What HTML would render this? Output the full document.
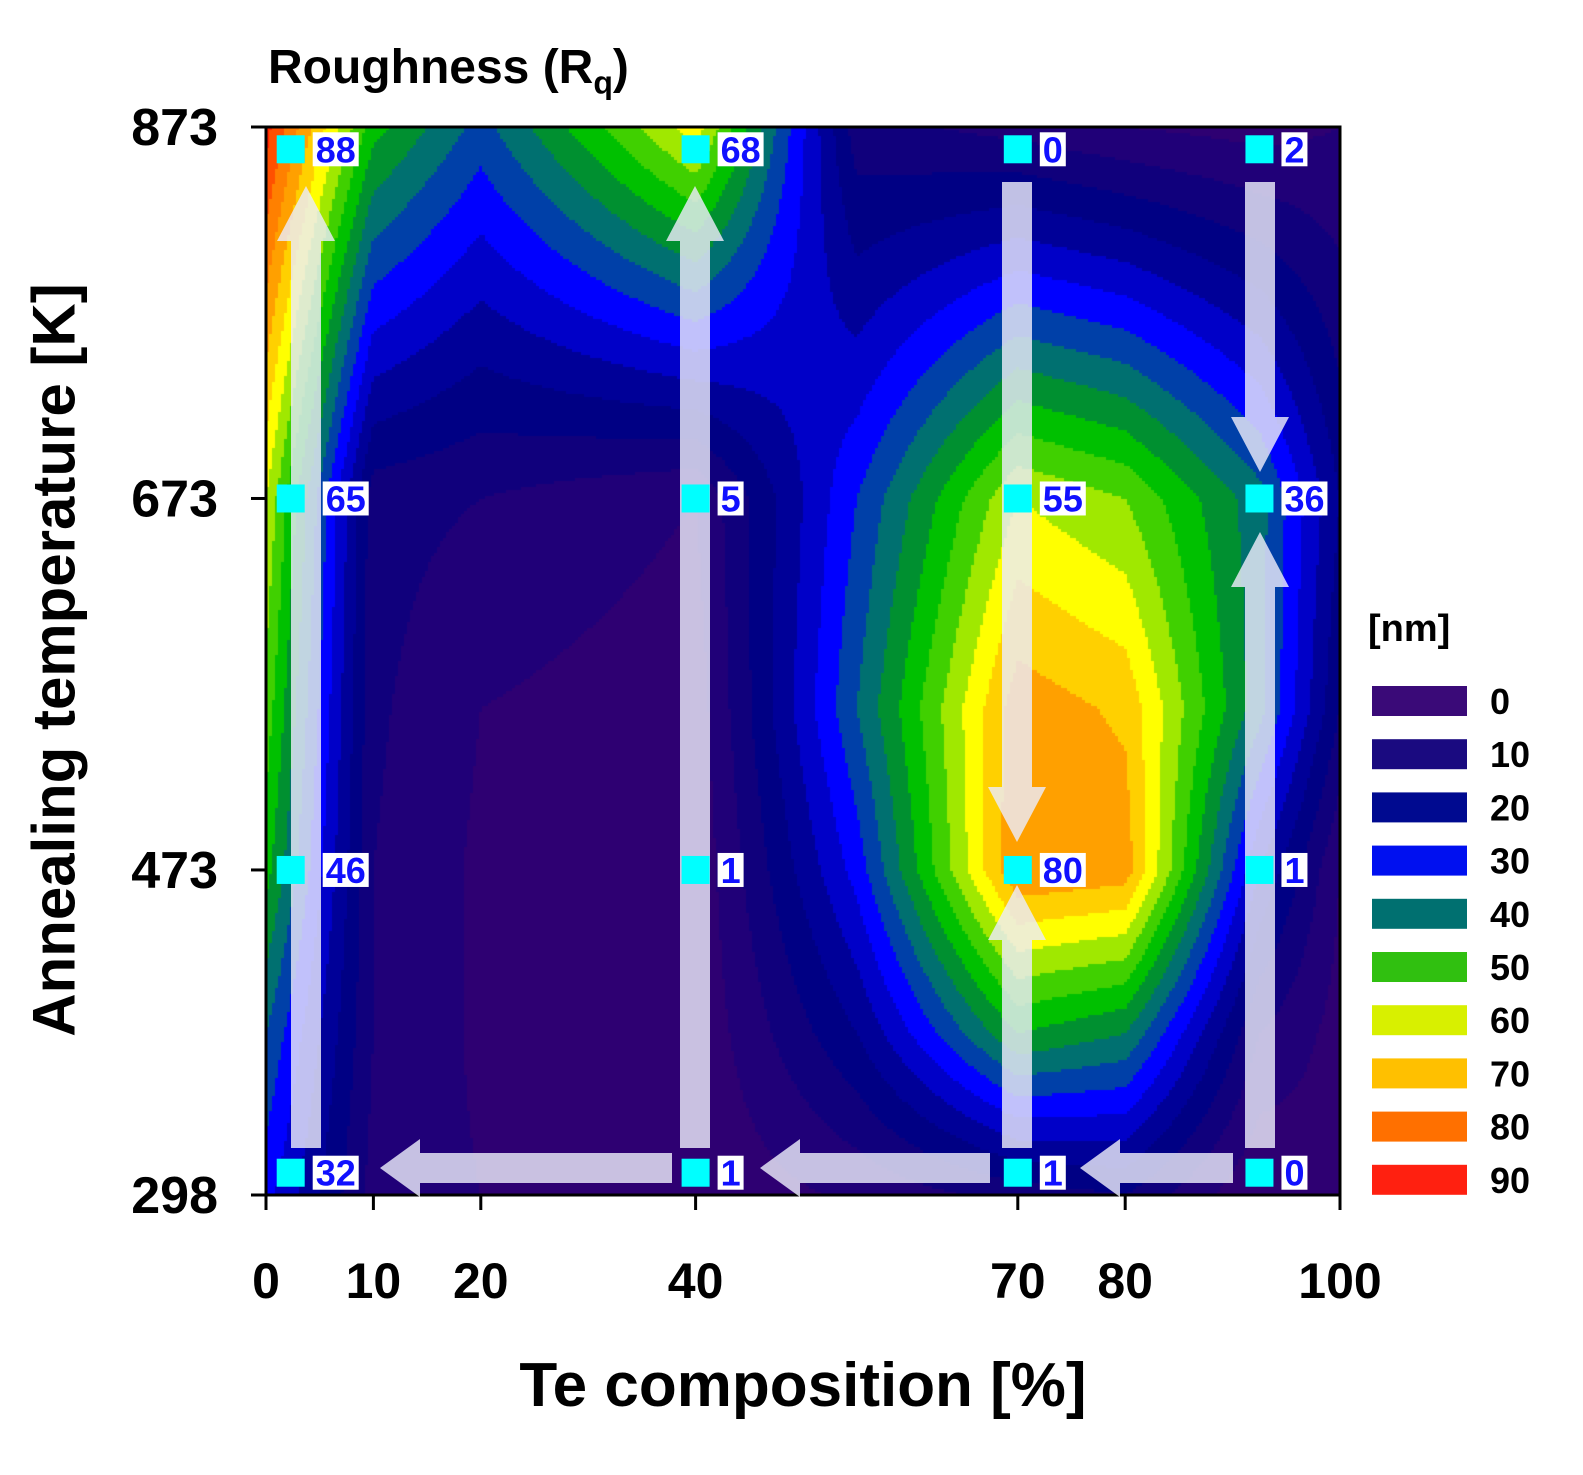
<!DOCTYPE html>
<html><head><meta charset="utf-8"><style>
body{margin:0;background:#fff;width:1583px;height:1475px;overflow:hidden;position:relative;font-family:"Liberation Sans",Arial,sans-serif;font-weight:bold}
.t{position:absolute;color:#000;white-space:nowrap}
canvas{position:absolute;left:266px;top:127px}
</style></head><body>
<div class="t" style="left:268px;top:40px;font-size:48px">Roughness (R<sub style="font-size:32px">q</sub>)</div>
<canvas id="cv" width="1074" height="1068"></canvas>
<svg id="sv" width="1583" height="1475" style="position:absolute;left:0;top:0"></svg>
<div class="t" style="left:54px;top:660px;font-size:60px;transform:translate(-50%,-50%) rotate(-90deg);">Annealing temperature [K]</div>
<div class="t" style="left:803px;top:1350px;font-size:62px;transform:translateX(-50%)">Te composition [%]</div>
<div class="t" style="left:1368px;top:608px;font-size:38px">[nm]</div>
<script>
const xGrid=[0,10,20,40,55,70,80,92.5,100];
const yGrid=[298,385,473,560,673,873];
const row298=[32,8,5,1,6,12,15,0,3];
const row385=[40,10,4,1,20,50,45,10,3];
const row473=[52,10,4,1,32,80,78,25,5];
const row560=[58,11,5,2,40,78,74,42,15];
const row673=[65,12,10,5,35,65,60,42,20];
const row873=[92,52,38,68,12,8,5,3,5];
const rows=[row298,row385,row473,row560,row673,row873];
const markerX=[2.3,40,70,92.5];
const markerY=[310,473,673,861];
const labels298=["32","1","1","0"];
const labels473=["46","1","80","1"];
const labels673=["65","5","55","36"];
const labels873=["88","68","0","2"];
const xTicks=[0,10,20,40,70,80,100];
const yTicks=[298,473,673,873];
const legendLevels=[0,10,20,30,40,50,60,70,80,90];
const legendColors=["#3a0a78","#1a0a80","#000a90","#0010f0","#007070","#30c010","#d8f000","#ffc000","#ff7000","#ff2010"];
const bandColors=["#2e0072","#200078","#10007c","#000084","#000098","#0000c8","#0000ff","#0040a8","#007070","#009030","#00c000","#40d000","#a0e800","#ffff00","#ffd000","#ffa000","#ff8000","#ff5000","#ff2000","#ff1000"];
const X0=266,X1=1340,Y0=1195,Y1=127;
const sx=v=>X0+(v/100)*(X1-X0);
const sy=v=>Y0-(v-298)/(873-298)*(Y0-Y1);
function seg(arr,v){for(let i=0;i<arr.length-1;i++){if(v<=arr[i+1])return i;}return arr.length-2;}
function val(x,y){
  const i=seg(xGrid,x),j=seg(yGrid,y);
  const tx=Math.min(1,Math.max(0,(x-xGrid[i])/(xGrid[i+1]-xGrid[i])));
  const ty=Math.min(1,Math.max(0,(y-yGrid[j])/(yGrid[j+1]-yGrid[j])));
  const a=rows[j][i],b=rows[j][i+1],c=rows[j+1][i],d=rows[j+1][i+1];
  return a*(1-tx)*(1-ty)+b*tx*(1-ty)+c*(1-tx)*ty+d*tx*ty;
}
const ctx=document.getElementById('cv').getContext('2d');
const S=3;
for(let px=0;px<1074;px+=S){for(let py=0;py<1068;py+=S){
  const x=(px+S/2)/(X1-X0)*100;
  const y=873-(py+S/2)/(Y0-Y1)*(873-298);
  const v=val(x,y);
  const k=Math.max(0,Math.min(bandColors.length-1,Math.floor(v/5)));
  ctx.fillStyle=bandColors[k];ctx.fillRect(px,py,S,S);
}}
const NS='http://www.w3.org/2000/svg';
const sv=document.getElementById('sv');
function mk(t,a){const e=document.createElementNS(NS,t);for(const k in a)e.setAttribute(k,a[k]);sv.appendChild(e);return e;}
let fr=mk('rect',{x:X0,y:Y1,width:X1-X0,height:Y0-Y1,fill:'none',stroke:'#000','stroke-width':3});


const AC='rgba(235,235,250,0.82)';
function varrow(x,yFrom,yTo,name){
  const dir=yTo<yFrom?-1:1;const hy=yTo-dir*55;
  const g=mk('polygon',{points:`${x-15},${yFrom} ${x+15},${yFrom} ${x+15},${hy} ${x+29},${hy} ${x},${yTo} ${x-29},${hy} ${x-15},${hy}`,fill:AC});
  
  
}
function harrow(y,xFrom,xTo,name){
  const hx=xTo+40;
  const g=mk('polygon',{points:`${xFrom},${y-15} ${hx},${y-15} ${hx},${y-29} ${xTo},${y} ${hx},${y+29} ${hx},${y+15} ${xFrom},${y+15}`,fill:AC});
  
  
}
varrow(306,1148,186,'arrow-0pct-up');
varrow(695,1148,186,'arrow-40pct-up');
varrow(1017,182,842,'arrow-70pct-down');
varrow(1017,1148,885,'arrow-70pct-up');
varrow(1260,182,472,'arrow-92pct-down');
varrow(1260,1148,532,'arrow-92pct-up');
harrow(1168,672,380,'arrow-bottom-left-1');
harrow(1168,990,760,'arrow-bottom-left-2');
harrow(1168,1233,1080,'arrow-bottom-left-3');
const allLabels=[labels298,labels473,labels673,labels873];
for(let j=0;j<markerY.length;j++){for(let i=0;i<markerX.length;i++){
  const cx=sx(markerX[i]),cy=sy(markerY[j]);
  const m=mk('rect',{x:cx-14,y:cy-14,width:28,height:28,fill:'#00ffff'});
  
  
  const txt=allLabels[j][i];const w=txt.length*20+6;
  const bx=cx+(i==0&&j>0&&j<3?32:22);
  const bg=mk('rect',{x:bx,y:cy-17,width:w,height:34,fill:'#fff'});
  
  
  const t=mk('text',{x:bx+3,y:cy+13,fill:'#1010ff','font-size':36,'font-weight':'bold','font-family':'Liberation Sans, sans-serif'});
  t.textContent=txt;
  
  
}}
xTicks.forEach(v=>{
  const l=mk('line',{x1:sx(v),x2:sx(v),y1:Y0,y2:Y0+15,stroke:'#000','stroke-width':3});
  
  
  const t=mk('text',{x:sx(v),y:1298,'text-anchor':'middle','font-size':50,'font-weight':'bold','font-family':'Liberation Sans, sans-serif'});
  t.textContent=v;
  
  
});
yTicks.forEach(v=>{
  const l=mk('line',{x1:X0-15,x2:X0,y1:sy(v),y2:sy(v),stroke:'#000','stroke-width':3});
  
  
  const t=mk('text',{x:218,y:sy(v)+18,'text-anchor':'end','font-size':52,'font-weight':'bold','font-family':'Liberation Sans, sans-serif'});
  t.textContent=v;
  
  
});
legendLevels.forEach((v,i)=>{
  const y=686+i*53.2;
  const r=mk('rect',{x:1372,y:y,width:95,height:30,fill:legendColors[i]});
  
  
  const t=mk('text',{x:1490,y:y+28,'font-size':36,'font-weight':'bold','font-family':'Liberation Sans, sans-serif'});
  t.textContent=v;
  
  
});
</script>
</body></html>
